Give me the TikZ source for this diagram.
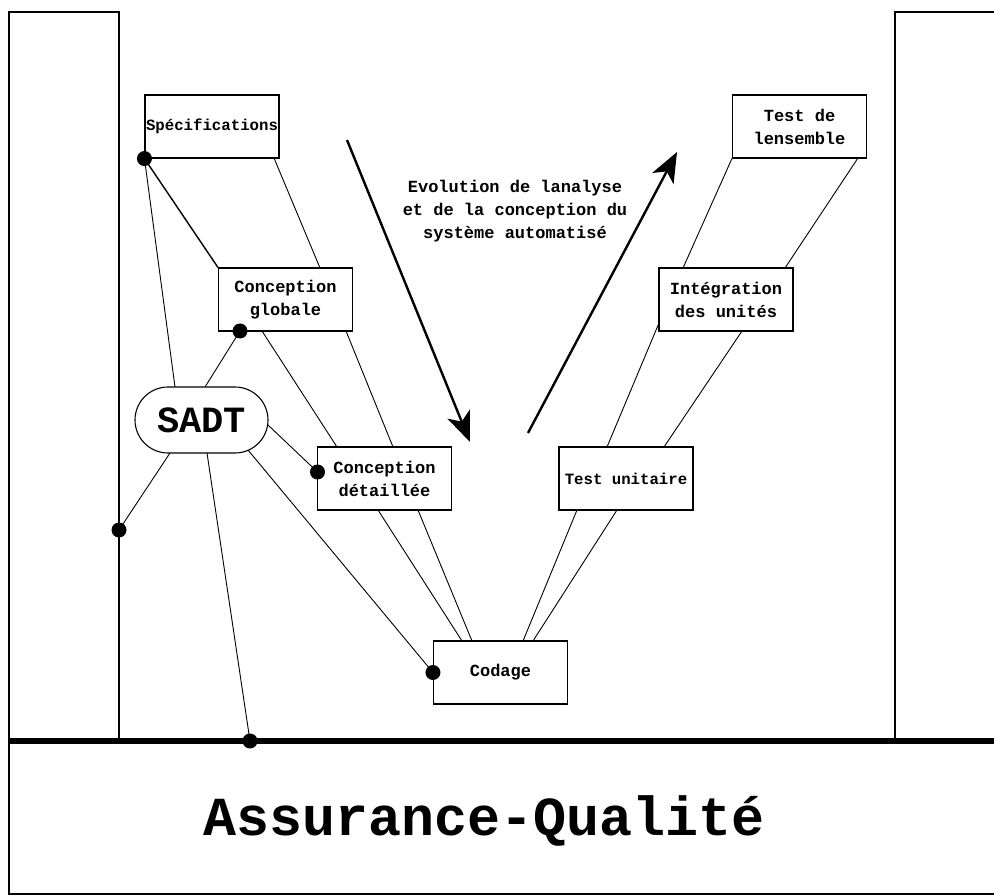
\documentclass[tikz,border=0pt]{standalone}
\usepackage{fontspec}
\setmainfont{Liberation Mono}
\usetikzlibrary{calc,arrows.meta,shapes.misc}
\begin{document}
\begin{tikzpicture}[x=1pt,y=-1pt,
  box/.style={draw, line width=1.1pt, minimum width=134pt, minimum height=63pt, inner sep=0pt, align=center, font=\bfseries\fontsize{17}{23}\selectfont},
  link/.style={line width=0.9pt},
  dot/.style={circle, fill=black, inner sep=0pt, minimum size=15pt},
  frame/.style={line width=1.2pt},
  bigarrow/.style={line width=2.4pt, -{Stealth[length=30pt,width=24pt,inset=8pt]}}]
\useasboundingbox (0,0) rectangle (994,896);

% frame
\draw[frame] (9,741) -- (9,12) -- (119,12) -- (119,741);
\draw[frame] (994,12) -- (895,12) -- (895,741);
\draw[frame] (9,741) -- (9,894) -- (994,894);
\draw[line width=6pt] (9,741) -- (994,741);

% boxes
\node[box, font=\bfseries\fontsize{15.7}{23}\selectfont] (spec) at (212,126.5) {Spécifications};
\node[box] (cg) at (285.5,299.5) {Conception\\globale};
\node[draw, line width=1.1pt, rounded rectangle, minimum width=133pt, minimum height=66pt, inner sep=0pt, font=\bfseries\fontsize{37}{38}\selectfont] (sadt) at (201.5,420) {SADT};
\node[box] (cd) at (384.5,478.5) {Conception\\détaillée};
\node[box] (cod) at (500.5,672.5) {Codage};
\node[box, font=\bfseries\fontsize{15.7}{23}\selectfont] (tu) at (626,478.5) {Test unitaire};
\node[box] (int) at (726,299.5) {Intégration\\des unités};
\node[box] (te) at (799.5,126.5) {Test de\\lensemble};

% dots
\node[dot] (d1) at (spec.south west) {};
\node[dot] (d2) at ($(cg.center)+(-45.5,31.5)$) {};
\node[dot] (d3) at ($(cd.center)+(-67,-6.5)$) {};
\node[dot] (d4) at (119,530) {};
\node[dot] (d5) at (250,741) {};
\node[dot] (d6) at (cod.west) {};

% connectors
\draw[line width=1.4pt] (d1.center) -- (cg.north west);
\draw[link] (d1.center) -- ($(sadt.center)+(-26.5,-33)$);
\draw[link] ($(spec.center)+(62,31.5)$) -- ($(cg.center)+(34.5,-31.5)$);
\draw[link] (d2.center) -- ($(sadt.center)+(3.5,-33)$);
\draw[link] ($(cg.center)+(-23.5,31.5)$) -- ($(cd.center)+(-47.5,-31.5)$);
\draw[link] ($(cg.center)+(60.5,31.5)$) -- ($(cd.center)+(8.5,-31.5)$);
\draw[link] ($(sadt.center)+(66.5,5)$) -- (d3.center);
\draw[link] ($(sadt.center)+(-31.5,33)$) -- (d4.center);
\draw[link] ($(sadt.center)+(5.5,33)$) -- (d5.center);
\draw[link] ($(sadt.center)+(46.5,30)$) -- (d6.center);
\draw[link] ($(cd.center)+(-6.5,31.5)$) -- ($(cod.center)+(-38.5,-31.5)$);
\draw[link] ($(cd.center)+(33.5,31.5)$) -- ($(cod.center)+(-28.5,-31.5)$);
\draw[link] ($(cod.center)+(22.5,-31.5)$) -- ($(tu.center)+(-49,31.5)$);
\draw[link] ($(cod.center)+(32.5,-31.5)$) -- ($(tu.center)+(-9,31.5)$);
\draw[link] ($(tu.center)+(-19,-31.5)$) -- ($(int.center)+(-67,23.5)$);
\draw[link] ($(tu.center)+(38,-31.5)$) -- ($(int.center)+(16,31.5)$);
\draw[link] ($(int.center)+(-43,-31.5)$) -- (te.south west);
\draw[link] ($(int.center)+(59,-31.5)$) -- ($(te.center)+(58.5,31.5)$);

% big arrows
\coordinate (a1s) at (347,140);
\coordinate (a1e) at (470,442);
\coordinate (a2s) at (528,433);
\coordinate (a2e) at (677,152);
\draw[bigarrow] (a1s) -- (a1e);
\draw[bigarrow] (a2s) -- (a2e);

\node[align=center, font=\bfseries\fontsize{17}{23}\selectfont] (evo) at (515,211) {Evolution de lanalyse\\et de la conception du\\système automatisé};

\node[anchor=base, font=\bfseries\fontsize{55}{60}\selectfont] (aq) at (484,835) {Assurance-Qualité};
\end{tikzpicture}
\end{document}
